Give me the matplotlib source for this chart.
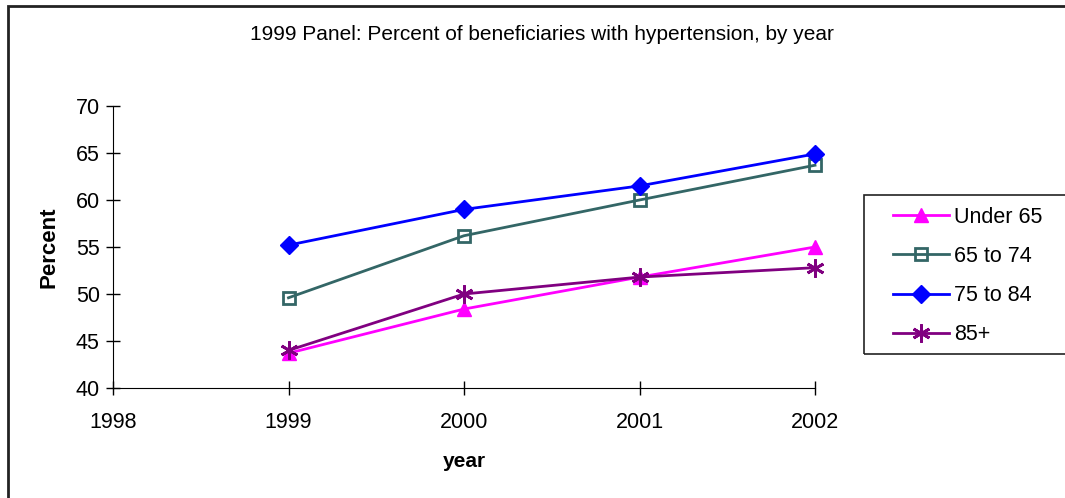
import matplotlib
matplotlib.use('Agg')
import matplotlib.pyplot as plt
from matplotlib.patches import Rectangle

plt.rcParams['font.family'] = ['Liberation Sans', 'DejaVu Sans']

years = [1999, 2000, 2001, 2002]
under65 = [43.7, 48.4, 51.8, 55.0]
age65_74 = [49.6, 56.2, 60.0, 63.7]
age75_84 = [55.2, 59.0, 61.5, 64.9]
age85 = [44.0, 50.0, 51.8, 52.8]
xticks = [1998, 1999, 2000, 2001, 2002]
yticks = [40, 45, 50, 55, 60, 65, 70]

fig = plt.figure(figsize=(10.65, 4.98), dpi=100)
ax = fig.add_axes([113/1065, 1 - 388/498, (815 - 113)/1065, (388 - 106)/498])

ax.plot(years, under65, color='#ff00ff', marker='^', ms=10, lw=2, label='Under 65')
ax.plot(years, age65_74, color='#336666', marker='s', ms=9, mfc='none', mew=2, lw=2, label='65 to 74')
ax.plot(years, age75_84, color='#0000ff', marker='D', ms=9, lw=2, label='75 to 84')
ax.plot(years, age85, color='#800080', marker=(6, 2, 0), ms=13, mew=2, lw=2, label='85+')

ax.set_xlim(1998, 2002)
ax.set_ylim(40, 70)
ax.set_xticks(xticks)
ax.set_yticks(yticks)
ax.tick_params(direction='inout', length=10, width=1, labelsize=15.5)
ax.tick_params(axis='x', pad=12)
ax.tick_params(axis='y', pad=4.5)
for s in ['top', 'right']:
    ax.spines[s].set_visible(False)
ax.set_xlabel('year', fontsize=15, fontweight='bold', labelpad=14)
ax.set_ylabel('Percent', fontsize=16, fontweight='bold', labelpad=12)
for line in ax.lines:
    line.set_clip_on(False)

fig.text(542/1065, 1 - 34/498, '1999 Panel: Percent of beneficiaries with hypertension, by year',
         ha='center', va='center', fontsize=15)

leg = fig.legend(loc='center left', bbox_to_anchor=(882/1065, 1 - 276/498), fontsize=15.5,
                 frameon=False, handlelength=2.6, labelspacing=0.85, borderpad=0,
                 handletextpad=0.25)
fig.patches.append(Rectangle((864/1065, 1 - 354/498), 0.2, 159/498, transform=fig.transFigure,
                             fill=False, edgecolor='#222222', lw=1.2))

fig.patches.append(Rectangle((8/1065, -0.1), 1.2, 1 - 6/498 + 0.1, transform=fig.transFigure,
                             fill=False, edgecolor='#222222', lw=2))

fig.savefig('out.png', dpi=100)
